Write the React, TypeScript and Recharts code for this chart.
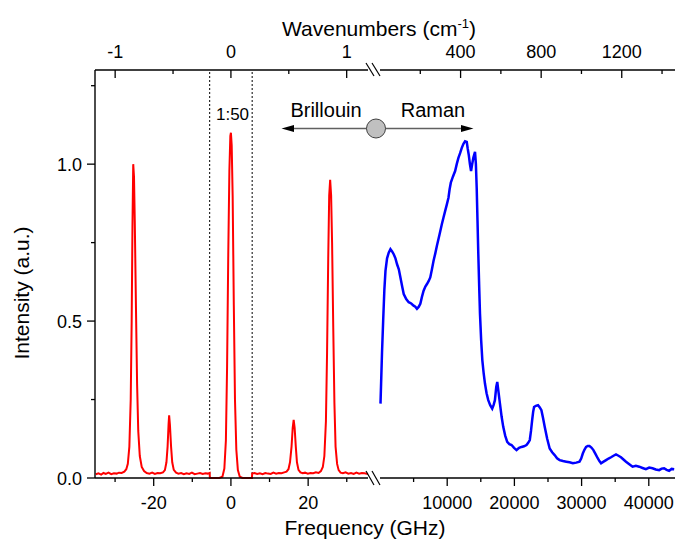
import React from 'react'
import { LineChart, Line, XAxis, YAxis, ReferenceLine } from 'recharts'

const FONT = '"Liberation Sans", Arial, Helvetica, sans-serif'
const CM_TO_GHZ = 29.98

// Brillouin part (GHz); between the dotted lines the elastic peak is scaled 1:50
const brillouinFreq = [
  -35.0, -34.3, -33.6, -33.0, -32.4, -31.7, -31.0, -30.3, -29.6, -29.0, -28.3, -27.6, -27.1, -26.7,
  -26.3, -25.95, -25.7, -25.5, -25.3, -25.1, -24.9, -24.6, -24.3, -24.0, -23.6, -23.1, -22.5, -21.8,
  -21.1, -20.4, -19.7, -19.0, -18.3, -17.6, -17.1, -16.7, -16.4, -16.15, -16.0, -15.8, -15.5, -15.2,
  -14.8, -14.2, -13.6, -12.9, -12.2, -11.5, -10.8, -10.1, -9.4, -8.7, -8.0, -7.3, -6.6, -6.0, -5.5,
  -5.45, -3.0, -2.2, -1.7, -1.3, -1.0, -0.7, -0.4, -0.15, 0.0, 0.2, 0.45, 0.75, 1.05, 1.4, 1.8, 2.3,
  3.0, 5.45, 5.5, 6.1, 6.8, 7.5, 8.2, 8.9, 9.6, 10.3, 11.0, 11.7, 12.4, 13.1, 13.8, 14.4, 14.9, 15.3,
  15.7, 16.0, 16.25, 16.5, 16.8, 17.1, 17.5, 18.0, 18.6, 19.2, 19.9, 20.6, 21.3, 22.0, 22.7, 23.3,
  23.8, 24.2, 24.6, 24.9, 25.2, 25.45, 25.7, 25.95, 26.2, 26.5, 26.8, 27.1, 27.5, 27.9, 28.4, 29.0,
  29.7, 30.4, 31.1, 31.8, 32.5, 33.2, 33.9, 34.6, 35.5,
]
const brillouinInt = [
  0.012, 0.015, 0.011, 0.016, 0.013, 0.017, 0.012, 0.015, 0.014, 0.017, 0.016, 0.02, 0.028, 0.045,
  0.1, 0.25, 0.5, 0.8, 1.0, 0.96, 0.82, 0.55, 0.3, 0.15, 0.07, 0.035, 0.022, 0.016,
  0.014, 0.017, 0.013, 0.016, 0.015, 0.018, 0.025, 0.05, 0.1, 0.17, 0.2, 0.17, 0.1, 0.05,
  0.026, 0.017, 0.014, 0.016, 0.012, 0.015, 0.013, 0.017, 0.012, 0.014, 0.016, 0.013, 0.015, 0.014, 0.016,
  0, 0, 0.004, 0.03, 0.12, 0.35, 0.7, 0.98, 1.09, 1.1, 1.06, 0.9, 0.55, 0.25, 0.09, 0.025, 0.004,
  0, 0, 0.014, 0.016, 0.013, 0.015, 0.012, 0.016, 0.014, 0.013, 0.017, 0.014, 0.016, 0.015, 0.018, 0.02, 0.028, 0.05,
  0.1, 0.16, 0.185, 0.16, 0.1, 0.05, 0.026, 0.018, 0.015, 0.017, 0.014, 0.016, 0.015, 0.018, 0.016, 0.022,
  0.035, 0.07, 0.18, 0.4, 0.7, 0.9, 0.95, 0.9, 0.75, 0.48, 0.24, 0.1, 0.045, 0.025, 0.017, 0.015,
  0.018, 0.014, 0.016, 0.013, 0.017, 0.014, 0.016, 0.015, 0.013,
]

// Raman part (GHz)
const ramanFreq = [
  74, 300, 470, 650, 815, 1050, 1300, 1555, 1800, 2040, 2300, 2540, 2800, 3040, 3300, 3530, 3900, 4270,
  4650, 5000, 5250, 5500, 5750, 6000, 6250, 6490, 6750, 6990, 7250, 7480, 7730, 7970, 8220, 8470, 8850,
  9210, 9450, 9700, 9950, 10190, 10360, 10540, 10850, 11180, 11420, 11670, 11920, 12170, 12420, 12660,
  12910, 13050, 13200, 13380, 13550, 13720, 13890, 14140, 14270, 14390, 14510, 14630, 14760, 14880,
  15050, 15230, 15420, 15620, 15860, 16110, 16400, 16700, 16900, 17100, 17300, 17450, 17600, 17850,
  18100, 18340, 18630, 18930, 19250, 19580, 19950, 20320, 20700, 21060, 21430, 21800, 22050, 22290,
  22470, 22640, 22800, 22930, 23200, 23520, 23780, 24020, 24270, 24510, 24880, 25250, 25620, 25990,
  26350, 26730, 27230, 27720, 28200, 28700, 29200, 29690, 29940, 30180, 30420, 30670, 30920, 31170,
  31460, 31760, 32080, 32400, 32650, 32900, 33270, 33640, 34010, 34380, 34750, 35120, 35490, 35860,
  36230, 36610, 37100, 37590, 38080, 38580, 39070, 39570, 40060, 40550, 41040, 41540, 41910, 42280,
  42650, 43020, 43400, 43780,
]
const ramanInt = [
  0.237, 0.4, 0.5, 0.6, 0.66, 0.7, 0.718, 0.729, 0.722, 0.713, 0.7, 0.681, 0.665, 0.639, 0.61, 0.586, 0.57, 0.56,
  0.556, 0.549, 0.546, 0.539, 0.545, 0.555, 0.578, 0.597, 0.61, 0.618, 0.628, 0.639, 0.665, 0.692, 0.715, 0.74, 0.775,
  0.809, 0.83, 0.851, 0.872, 0.893, 0.92, 0.941, 0.96, 0.978, 1.0, 1.02, 1.035, 1.052, 1.065, 1.073,
  1.071, 1.05, 1.031, 1.0, 0.978, 1.0, 1.02, 1.039, 1.0, 0.925, 0.82, 0.713, 0.61, 0.523,
  0.44, 0.375, 0.335, 0.301, 0.27, 0.248, 0.232, 0.221, 0.232, 0.248, 0.29, 0.306, 0.28, 0.237,
  0.195, 0.163, 0.135, 0.115, 0.108, 0.105, 0.096, 0.089, 0.096, 0.099, 0.101, 0.105, 0.112, 0.121,
  0.15, 0.184, 0.212, 0.226, 0.23, 0.232, 0.225, 0.216, 0.19, 0.163, 0.125, 0.094, 0.082, 0.073,
  0.063, 0.057, 0.054, 0.052, 0.05, 0.047, 0.049, 0.052, 0.062, 0.078, 0.09, 0.099, 0.102, 0.102,
  0.097, 0.089, 0.076, 0.063, 0.054, 0.047, 0.052, 0.057, 0.062, 0.066, 0.071, 0.075, 0.071, 0.066,
  0.059, 0.052, 0.044, 0.036, 0.039, 0.036, 0.032, 0.028, 0.033, 0.031, 0.027, 0.025, 0.03, 0.031,
  0.026, 0.023, 0.029, 0.028,
]

const leftFreqTicks = [-30, -20, -10, 0, 10, 20, 30]
const leftFreqLabels = [-20, 0, 20]
const leftWaveTicks = [-1, -0.5, 0, 0.5, 1]
const leftWaveLabels = [-1, 0, 1]
const rightFreqTicks = [5000, 10000, 15000, 20000, 25000, 30000, 35000, 40000]
const rightFreqLabels = [10000, 20000, 30000, 40000]
const rightWaveTicks = [200, 400, 600, 800, 1000, 1200, 1400]
const rightWaveLabels = [400, 800, 1200]
const intensityTicks = [0, 0.25, 0.5, 0.75, 1, 1.25]
const intensityLabels = [0, 0.5, 1]
const scaledRegion = [-5.5, 5.5]

const brillouinData = brillouinFreq.map((f, i) => ({ f, y: brillouinInt[i] }))
const ramanData = ramanFreq.map((f, i) => ({ f, y: ramanInt[i] }))

const AXIS = { stroke: '#000', strokeWidth: 1.4 }
const TICK_FONT = 18

// draws its own tick mark so minor ticks can be shorter and unlabelled
function makeTick(side: 'top' | 'bottom' | 'left', labels: number[], toValue = (v: number) => v, fmt = (v: number) => String(Math.round(v))) {
  return (props: any) => {
    const { x, y, payload } = props
    const v = toValue(payload.value)
    const major = labels.some((l) => Math.abs(l - v) < 1e-6)
    const len = major ? 8 : 4
    if (side === 'left') {
      return (
        <g>
          <line x1={x} x2={x - len} y1={y} y2={y} stroke="#000" strokeWidth={1.3} />
          {major && (
            <text x={x - 13} y={y + 6.5} textAnchor="end" fontSize={TICK_FONT} fontFamily={FONT} fill="#000">
              {fmt(v)}
            </text>
          )}
        </g>
      )
    }
    const y2 = y + len // top ticks point inward, bottom ticks outward: both go down
    const ty = side === 'top' ? y - 12 : y + 31
    return (
      <g>
        <line x1={x} x2={x} y1={y} y2={y2} stroke="#000" strokeWidth={1.3} />
        {major && (
          <text x={x} y={ty} textAnchor="middle" fontSize={TICK_FONT} fontFamily={FONT} fill="#000">
            {fmt(v)}
          </text>
        )}
      </g>
    )
  }
}

const toWave = (v: number) => v / CM_TO_GHZ

export default function App() {
  return (
    <div style={{ position: 'absolute', left: 0, top: 0, width: 675, height: 540, background: '#fff', overflow: 'hidden' }}>
      <div style={{ position: 'absolute', left: 0, top: 0 }}>
        <LineChart width={372} height={540} data={brillouinData} margin={{ top: 40, right: 4, bottom: 32, left: 35 }}>
          <XAxis dataKey="f" type="number" domain={[-35.2, 35.5]} ticks={leftFreqTicks} interval={0}
            height={30} axisLine={AXIS} tickLine={false} tickSize={0} tickMargin={0}
            tick={makeTick('bottom', leftFreqLabels)} />
          <XAxis xAxisId="top" orientation="top" dataKey="f" type="number" domain={[-35.2, 35.5]}
            ticks={leftWaveTicks.map((w) => w * CM_TO_GHZ)} interval={0}
            height={30} axisLine={AXIS} tickLine={false} tickSize={0} tickMargin={0}
            tick={makeTick('top', leftWaveLabels, toWave)} />
          <YAxis type="number" domain={[0, 1.3]} ticks={intensityTicks} interval={0} width={60}
            axisLine={AXIS} tickLine={false} tickSize={0} tickMargin={0}
            tick={makeTick('left', intensityLabels, (v) => v, (v) => v.toFixed(1))} />
          {scaledRegion.map((x) => (
            <ReferenceLine key={x} x={x} stroke="#000" strokeWidth={1} strokeDasharray="2 2" />
          ))}
          <Line dataKey="y" type="linear" stroke="#ff0000" strokeWidth={2} dot={false} isAnimationActive={false} />
        </LineChart>
      </div>
      <div style={{ position: 'absolute', left: 372, top: 0 }}>
        <LineChart width={303} height={540} data={ramanData} margin={{ top: 40, right: 0, bottom: 32, left: 8 }}>
          <XAxis dataKey="f" type="number" domain={[0, 43900]} ticks={rightFreqTicks} interval={0}
            height={30} axisLine={AXIS} tickLine={false} tickSize={0} tickMargin={0}
            tick={makeTick('bottom', rightFreqLabels)} />
          <XAxis xAxisId="top" orientation="top" dataKey="f" type="number" domain={[0, 43900]}
            ticks={rightWaveTicks.map((w) => w * CM_TO_GHZ)} interval={0}
            height={30} axisLine={AXIS} tickLine={false} tickSize={0} tickMargin={0}
            tick={makeTick('top', rightWaveLabels, toWave)} />
          <YAxis type="number" domain={[0, 1.3]} hide />
          <Line dataKey="y" type="linear" stroke="#0000ff" strokeWidth={2.5} dot={false} isAnimationActive={false} />
        </LineChart>
      </div>
      <svg width={675} height={540} style={{ position: 'absolute', left: 0, top: 0, pointerEvents: 'none' }} fontFamily={FONT}>
        <text x={379} y={36} fontSize={21} textAnchor="middle">
          Wavenumbers (cm<tspan dy={-8} fontSize={13}>-1</tspan><tspan dy={8}>)</tspan>
        </text>
        <text x={365} y={535} fontSize={21} textAnchor="middle">Frequency (GHz)</text>
        <text x={29} y={293} fontSize={21} textAnchor="middle" transform="rotate(-90 29 293)">Intensity (a.u.)</text>

        {/* axis break marks */}
        <g stroke="#000" strokeWidth={1.2}>
          <line x1={366} y1={63} x2={374} y2={76} />
          <line x1={372} y1={63} x2={380} y2={76} />
          <line x1={366} y1={471} x2={374} y2={485} />
          <line x1={372} y1={471} x2={380} y2={485} />
        </g>

        <text x={232.5} y={120} fontSize={17} textAnchor="middle">1:50</text>

        <text x={326} y={117} fontSize={20} textAnchor="middle">Brillouin</text>
        <text x={433} y={117} fontSize={20} textAnchor="middle">Raman</text>
        <line x1={292} y1={128.5} x2={463} y2={128.5} stroke="#606060" strokeWidth={1.5} />
        <polygon points="281.5,128.5 294,125 294,132" fill="#000" />
        <polygon points="473.5,128.5 461,125 461,132" fill="#000" />
        <circle cx={376} cy={128.5} r={9.5} fill="#c0c0c0" stroke="#404040" strokeWidth={1} />
      </svg>
    </div>
  )
}
